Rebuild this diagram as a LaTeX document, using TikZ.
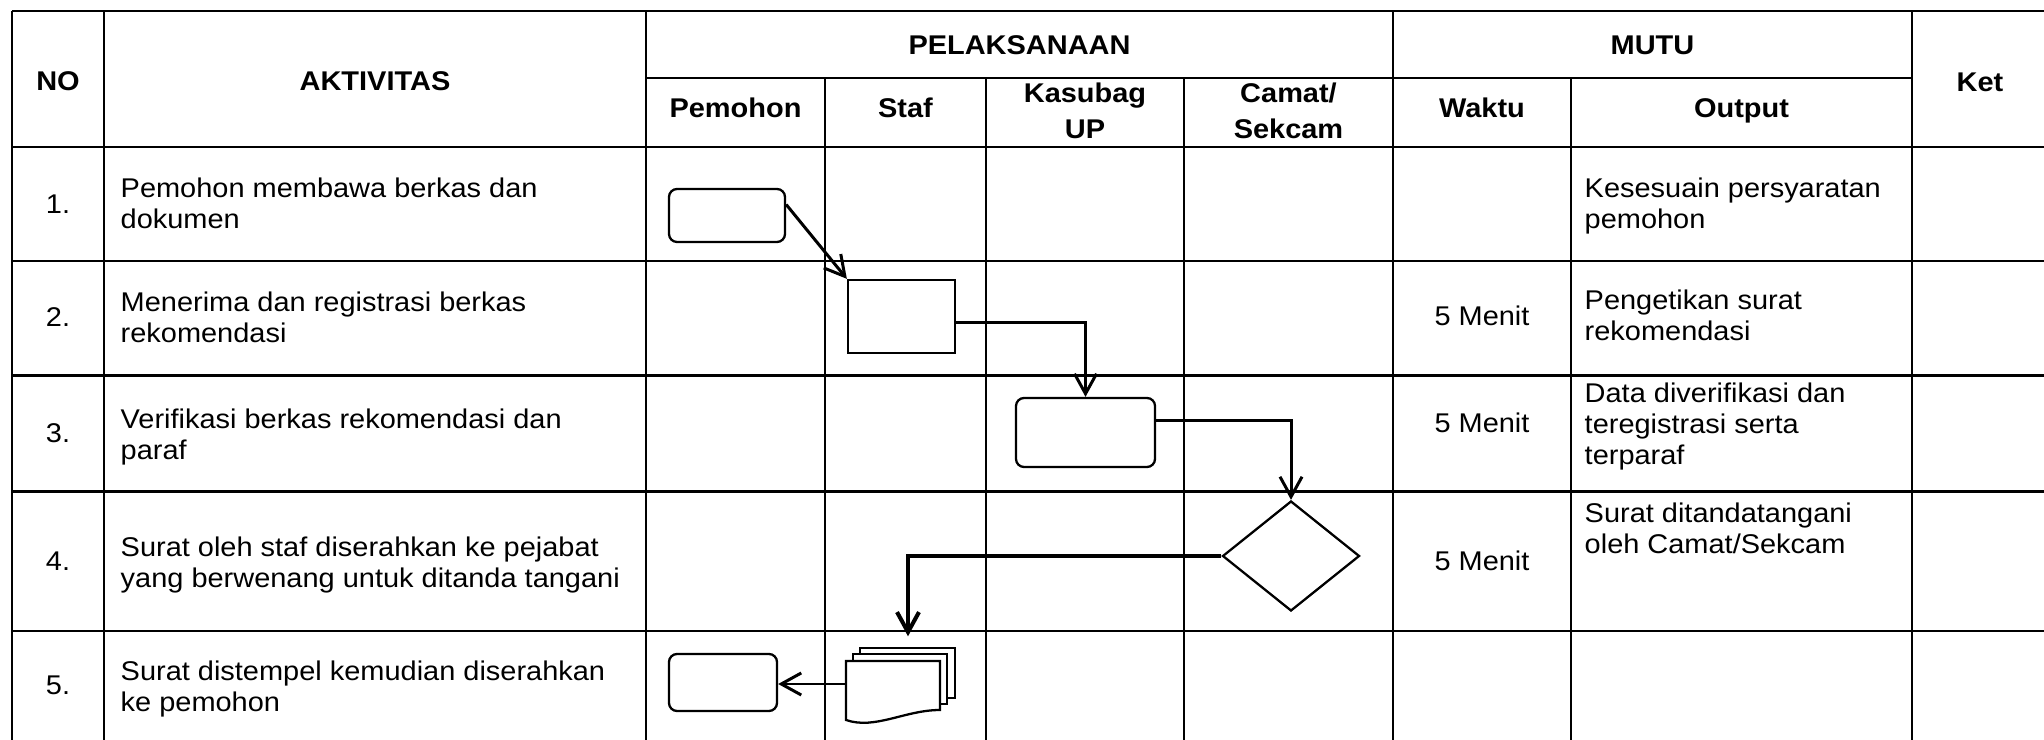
\documentclass[tikz,border=0pt]{standalone}
\usepackage{fontspec}
\setmainfont{Liberation Sans}[FakeStretch=1.07]
\usetikzlibrary{arrows.meta,shapes.geometric}

\begin{document}
\begin{tikzpicture}[
      every node/.style={inner sep=0pt, font=\fontsize{7.7pt}{8.8pt}\selectfont},
      header/.style={anchor=base, align=center, font=\fontsize{7.7pt}{10.2pt}\selectfont\bfseries},
      cell/.style={anchor=north west, align=left},
      num/.style={anchor=base},
      grid/.style={line width=0.65pt},
      process/.style={rectangle, draw, line width=0.65pt, fill=white},
      terminal/.style={process, rounded corners=0.08cm},
      decision/.style={diamond, draw, line width=0.65pt, fill=white, minimum width=1.37cm, minimum height=1.10cm},
      docpage/.style={draw, line width=0.65pt, fill=white},
      flow/.style={line width=0.85pt, -{Straight Barb[length=0.2cm, width=0.22cm]}},
      bigflow/.style={flow, line width=1.15pt}
  ]
    \useasboundingbox (0,0) rectangle (20.44,-7.40);

    % rules of the table
    \foreach \y in {-0.11,-1.47,-2.61,-3.755,-4.915,-6.31} {
      \draw[grid] (0.12,\y) -- (20.44,\y);
    }
    \draw[grid] (6.46,-0.78) -- (19.12,-0.78);
    \foreach \x in {0.12,1.04,6.46,13.93,19.12} {
      \draw[grid] (\x,-0.11) -- (\x,-7.40);
    }
    \foreach \x in {8.25,9.86,11.84,15.71} {
      \draw[grid] (\x,-0.78) -- (\x,-7.40);
    }

    % header
    \node[header] (hno) at (0.58,-0.91) {NO};
    \node[header] (hakt) at (3.75,-0.91) {AKTIVITAS};
    \node[header] (hpel) at (10.195,-0.55) {PELAKSANAAN};
    \node[header] (hmutu) at (16.525,-0.55) {MUTU};
    \node[header] (hket) at (19.80,-0.92) {Ket};
    \node[header] (hpem) at (7.355,-1.18) {Pemohon};
    \node[header] (hstaf) at (9.055,-1.18) {Staf};
    \node[header, anchor=north] (hkas) at (10.85,-0.768) {\strut Kasubag\\UP};
    \node[header, anchor=north] (hcam) at (12.885,-0.768) {\strut Camat/\\Sekcam};
    \node[header] (hwak) at (14.82,-1.18) {Waktu};
    \node[header] (hout) at (17.415,-1.18) {Output};

    % rows
    \foreach \n/\y in {1/-2.14,2/-3.27,3/-4.43,4/-5.71,5/-6.95} {
      \node[num] (n\n) at (0.58,\y) {\n.};
    }
    \node[cell] (act1) at (1.20,-1.75) {\strut Pemohon membawa berkas dan\\dokumen};
    \node[cell] (act2) at (1.20,-2.89) {\strut Menerima dan registrasi berkas\\rekomendasi};
    \node[cell] (act3) at (1.20,-4.06) {\strut Verifikasi berkas rekomendasi dan\\paraf};
    \node[cell] (act4) at (1.20,-5.34) {\strut Surat oleh staf diserahkan ke pejabat\\yang berwenang untuk ditanda tangani};
    \node[cell] (act5) at (1.20,-6.58) {\strut Surat distempel kemudian diserahkan\\ke pemohon};

    \node[num] (w2) at (14.82,-3.26) {5 Menit};
    \node[num] (w3) at (14.82,-4.33) {5 Menit};
    \node[num] (w4) at (14.82,-5.71) {5 Menit};

    \node[cell] (out1) at (15.84,-1.75) {\strut Kesesuain persyaratan\\pemohon};
    \node[cell] (out2) at (15.84,-2.87) {\strut Pengetikan surat\\rekomendasi};
    \node[cell] (out3) at (15.84,-3.80) {\strut Data diverifikasi dan\\teregistrasi serta\\terparaf};
    \node[cell] (out4) at (15.84,-5.00) {\strut Surat ditandatangani\\oleh Camat/Sekcam};

    % flow symbols
    \node[terminal, minimum width=1.16cm, minimum height=0.53cm] (mulai) at (7.27,-2.155) {};
    \node[process, minimum width=1.07cm, minimum height=0.73cm] (terima) at (9.015,-3.165) {};
    \node[terminal, minimum width=1.39cm, minimum height=0.69cm] (verif) at (10.855,-4.325) {};
    \node[decision] (ttd) at (12.91,-5.56) {};
    \draw[docpage] (8.60,-6.48) rectangle (9.55,-6.98);
    \draw[docpage] (8.53,-6.54) rectangle (9.47,-7.04);
    \draw[docpage] (8.46,-6.61) -- (9.40,-6.61) -- (9.40,-7.10) .. controls (9.05,-7.10) and (8.75,-7.30) .. (8.46,-7.20) -- cycle;
    \node[minimum width=0.94cm, minimum height=0.46cm] (surat) at (8.93,-6.84) {};
    \node[terminal, minimum width=1.08cm, minimum height=0.57cm] (selesai) at (7.23,-6.825) {};

    % connectors
    \draw[flow] ([yshift=0.11cm]mulai.east) -- (terima.north west);
    \draw[flow] ([yshift=-0.06cm]terima.east) -| (verif.north);
    \draw[flow] ([yshift=0.12cm]verif.east) -| (ttd.north);
    \draw[bigflow] (ttd.west) -| ([xshift=0.15cm,yshift=0.24cm]surat.north);
    \draw[flow] (surat.west) -- (surat.west -| selesai.east);
  \end{tikzpicture}
\end{document}
